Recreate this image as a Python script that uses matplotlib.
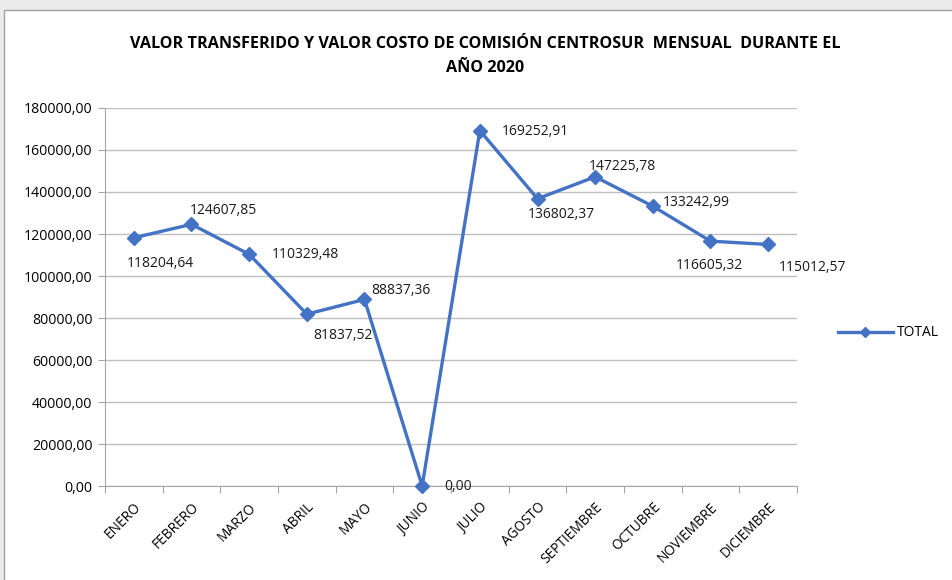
import matplotlib
matplotlib.use("Agg")
import matplotlib.pyplot as plt
from matplotlib.patches import Rectangle

months = ["ENERO", "FEBRERO", "MARZO", "ABRIL", "MAYO", "JUNIO", "JULIO",
          "AGOSTO", "SEPTIEMBRE", "OCTUBRE", "NOVIEMBRE", "DICIEMBRE"]
total = [118204.64, 124607.85, 110329.48, 81837.52, 88837.36, 0.00, 169252.91,
         136802.37, 147225.78, 133242.99, 116605.32, 115012.57]
yticks = [0, 20000, 40000, 60000, 80000, 100000, 120000, 140000, 160000, 180000]

# label offsets in pixels (dx, dy, ha)
label_pos = [(27, -26, "center"), (-2, 14, "left"), (23, 0, "left"), (36, -21, "center"),
             (7, 9, "left"), (22, -1, "left"), (22, -1, "left"), (24, -16, "center"),
             (-6, 10, "left"), (10, 4, "left"), (-1, -24, "center"), (11, -23, "left")]

FONT = "Open Sans"
fig = plt.figure(figsize=(9.52, 5.80), dpi=100)
fig.patch.set_facecolor("#ebebeb")
fig.patches.append(Rectangle((4 / 952, -0.01), 1.0, (580 - 10) / 580 + 0.01,
                             transform=fig.transFigure, facecolor="white",
                             edgecolor="#a0a0a0", linewidth=1.0, zorder=-5))

ax = fig.add_axes([105 / 952, (580 - 486) / 580, (797 - 105) / 952, (486 - 108) / 580])
ax.set_zorder(2)
ax.set_facecolor("white")
x = list(range(len(months)))
ax.plot(x, total, color="#4472C4", linewidth=2.4, marker="D", markersize=7,
        label="TOTAL", zorder=3, clip_on=False)

def fmt(v):
    return f"{v:.2f}".replace(".", ",")

for i, v in enumerate(total):
    dx, dy, ha = label_pos[i]
    ax.annotate(fmt(v), (i, v), xytext=(dx, dy), textcoords="offset pixels",
                ha=ha, va="center", fontsize=10, family=FONT, color="#1a1a1a")

ax.set_ylim(0, 180000)
ax.set_xlim(-0.5, 11.5)
ax.set_yticks(yticks)
ax.set_yticklabels([fmt(t) for t in yticks], family=FONT, fontsize=10.2)
ax.yaxis.grid(True, color="#bfbfbf", linewidth=1)
ax.set_axisbelow(True)

ax.set_xticks([i - 0.5 for i in range(13)])
ax.set_xticklabels([])
ax.set_xticks(x, minor=True)
ax.set_xticklabels(months, minor=True, rotation=45, ha="right", va="top",
                   rotation_mode="anchor", family=FONT, fontsize=9.8)
ax.tick_params(axis="x", which="minor", length=0, pad=10)
ax.tick_params(axis="x", which="major", length=5, color="#a6a6a6")
ax.tick_params(axis="y", length=5, color="#a6a6a6", pad=4)

for s in ["top", "right"]:
    ax.spines[s].set_visible(False)
ax.spines["left"].set_color("#a6a6a6")
ax.spines["bottom"].set_color("#a6a6a6")

fig.text(485 / 952, 1 - 44 / 580,
         "VALOR TRANSFERIDO Y VALOR COSTO DE COMISIÓN CENTROSUR  MENSUAL  DURANTE EL",
         ha="center", va="center", family=FONT, fontweight="bold", fontsize=11.6)
fig.text(485 / 952, 1 - 68 / 580, "AÑO 2020", ha="center", va="center",
         family=FONT, fontweight="bold", fontsize=11.6)

leg = ax.legend(loc="center left", bbox_to_anchor=(825 / 952, 1 - 333 / 580),
                bbox_transform=fig.transFigure, frameon=False,
                prop={"family": FONT, "size": 10}, handlelength=4.0,
                handletextpad=0.3, markerscale=0.75)

fig.savefig("out.png", dpi=100, facecolor=fig.get_facecolor())
